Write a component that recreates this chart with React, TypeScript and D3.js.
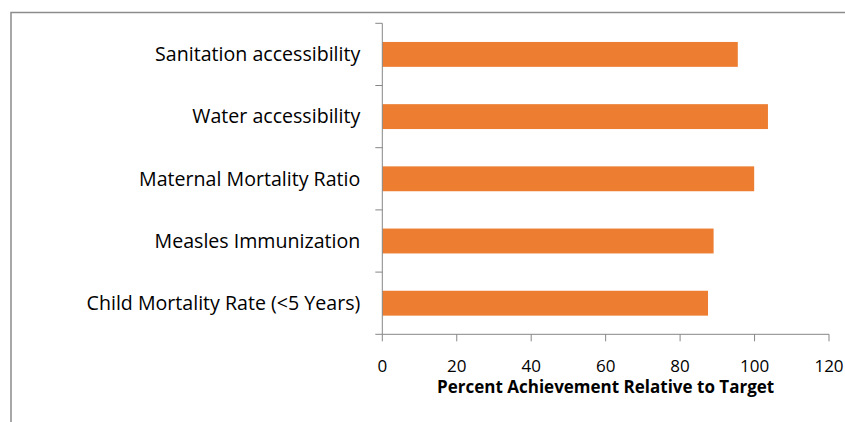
import React, { useEffect, useRef } from 'react';
import * as d3 from 'd3';

const categories = [
  'Sanitation accessibility',
  'Water accessibility',
  'Maternal Mortality Ratio',
  'Measles Immunization',
  'Child Mortality Rate (<5 Years)',
];
const values = [95.5, 103.6, 99.9, 89.0, 87.5];
const xTicks = [0, 20, 40, 60, 80, 100, 120];
const xTitle = 'Percent Achievement Relative to Target';

const App: React.FC = () => {
  const svgRef = useRef<SVGSVGElement>(null);

  useEffect(() => {
    if (!svgRef.current) return;
    const svg = d3.select(svgRef.current);
    svg.selectAll('*').remove();

    const font = '"Open Sans", "DejaVu Sans", sans-serif';
    const axisColor = '#868686';

    // outer chart frame (runs off the right and bottom edge)
    svg.append('rect')
      .attr('x', 11)
      .attr('y', 12.5)
      .attr('width', 900)
      .attr('height', 500)
      .attr('fill', 'none')
      .attr('stroke', '#8c8c8c')
      .attr('stroke-width', 1.5);

    const left = 382.3;
    const right = 829;
    const top = 23.3;
    const bottom = 334.3;

    const x = d3.scaleLinear().domain([0, 120]).range([left, right]);
    const y = d3.scaleBand<string>()
      .domain(categories)
      .range([top, bottom])
      .paddingInner(0.6)
      .paddingOuter(0.3);
    const yTicks = d3.scaleBand<string>().domain(categories).range([top, bottom]);

    // bars
    svg.append('g')
      .selectAll('rect')
      .data(categories)
      .join('rect')
      .attr('x', x(0))
      .attr('y', (d) => y(d)!)
      .attr('width', (d, i) => x(values[i]) - x(0))
      .attr('height', y.bandwidth())
      .attr('fill', '#ED7D31');

    // y axis line + tick marks at band boundaries
    const yAxis = svg.append('g').attr('stroke', axisColor).attr('stroke-width', 1);
    yAxis.append('line')
      .attr('x1', left).attr('x2', left)
      .attr('y1', top).attr('y2', bottom);
    const bounds = categories.map((c) => yTicks(c)!).concat([bottom]);
    yAxis.selectAll('line.tick')
      .data(bounds)
      .join('line')
      .attr('class', 'tick')
      .attr('x1', left - 7).attr('x2', left)
      .attr('y1', (d) => d).attr('y2', (d) => d);

    // x axis line + ticks
    const xAxis = svg.append('g').attr('stroke', axisColor).attr('stroke-width', 1);
    xAxis.append('line')
      .attr('x1', left).attr('x2', right)
      .attr('y1', bottom).attr('y2', bottom);
    xAxis.selectAll('line.tick')
      .data(xTicks)
      .join('line')
      .attr('class', 'tick')
      .attr('x1', (d) => x(d)).attr('x2', (d) => x(d))
      .attr('y1', bottom).attr('y2', bottom + 7);

    // category labels
    svg.append('g')
      .selectAll('text')
      .data(categories)
      .join('text')
      .attr('x', left - 22)
      .attr('y', (d) => yTicks(d)! + yTicks.bandwidth() / 2)
      .attr('dy', '0.35em')
      .attr('text-anchor', 'end')
      .style('font-family', font)
      .style('font-size', '19.6px')
      .style('fill', '#000')
      .text((d) => d);

    // x tick labels
    svg.append('g')
      .selectAll('text')
      .data(xTicks)
      .join('text')
      .attr('x', (d) => x(d))
      .attr('y', 366)
      .attr('dy', '0.35em')
      .attr('text-anchor', 'middle')
      .style('font-family', font)
      .style('font-size', '17px')
      .style('fill', '#000')
      .text((d) => d);

    // x axis title
    svg.append('text')
      .attr('x', (left + right) / 2)
      .attr('y', 387)
      .attr('dy', '0.35em')
      .attr('text-anchor', 'middle')
      .style('font-family', font)
      .style('font-size', '17px')
      .style('font-weight', 'bold')
      .style('fill', '#000')
      .text(xTitle);
  }, []);

  return (
    <svg
      ref={svgRef}
      width={845}
      height={422}
      style={{ position: 'absolute', left: 0, top: 0, background: '#fff' }}
    />
  );
};

export default App;
